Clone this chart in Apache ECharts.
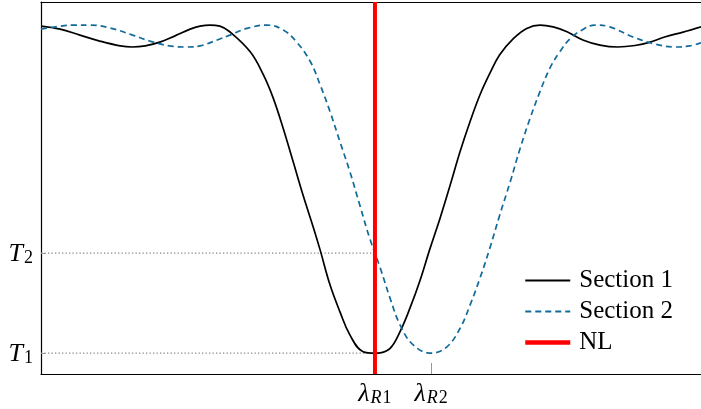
<!DOCTYPE html>
<html>
<head>
<meta charset="utf-8">
<script src="https://cdn.jsdelivr.net/npm/echarts@6/dist/echarts.min.js"></script>
<style>
  html, body { margin: 0; padding: 0; background: #fff; }
  #chart { width: 701px; height: 409px; }
</style>
</head>
<body>
<div id="chart"></div>
<script>
// Transmission spectra of two grating sections (wavelength in nm, normalised transmission)
const sec1Wl = [1545.00, 1545.29, 1545.59, 1545.89, 1546.20, 1546.38, 1546.58, 1546.80, 1547.03, 1547.26,
                1547.41, 1547.56, 1547.71, 1547.86, 1548.17, 1548.37, 1548.52, 1548.67, 1548.82, 1548.97,
                1549.13, 1549.23, 1549.38, 1549.53, 1549.68, 1549.88, 1550.06, 1550.14, 1550.29, 1550.44,
                1550.59, 1550.74, 1550.89, 1551.05, 1551.20, 1551.35, 1551.50, 1551.65, 1551.80, 1551.95,
                1552.16, 1552.36, 1552.56, 1552.76, 1552.97, 1553.21, 1553.47, 1553.74, 1554.00, 1554.23,
                1554.45, 1554.73, 1555.00];
const sec1T  = [0.935, 0.927, 0.911, 0.895, 0.882, 0.879, 0.882, 0.892, 0.909, 0.927,
                0.935, 0.938, 0.935, 0.920, 0.866, 0.804, 0.741, 0.660, 0.571, 0.481,
                0.392, 0.333, 0.239, 0.167, 0.105, 0.060, 0.056, 0.057, 0.069, 0.114,
                0.177, 0.250, 0.335, 0.421, 0.508, 0.598, 0.678, 0.750, 0.808, 0.858,
                0.902, 0.929, 0.938, 0.933, 0.920, 0.898, 0.884, 0.879, 0.883, 0.892,
                0.906, 0.919, 0.933];

const sec2Wl = [1545.00, 1545.29, 1545.52, 1545.74, 1546.05, 1546.39, 1546.65, 1546.95, 1547.21, 1547.41,
                1547.67, 1547.86, 1548.12, 1548.42, 1548.67, 1548.87, 1549.08, 1549.23, 1549.38, 1549.53,
                1549.68, 1549.83, 1549.98, 1550.14, 1550.29, 1550.44, 1550.64, 1550.91, 1551.15, 1551.35,
                1551.50, 1551.65, 1551.80, 1551.95, 1552.11, 1552.26, 1552.41, 1552.56, 1552.71, 1552.86,
                1553.02, 1553.20, 1553.39, 1553.62, 1553.97, 1554.30, 1554.61, 1554.83, 1555.00];
const sec2T  = [0.927, 0.935, 0.938, 0.938, 0.930, 0.911, 0.895, 0.882, 0.879, 0.882,
                0.898, 0.911, 0.929, 0.938, 0.925, 0.893, 0.840, 0.777, 0.705, 0.624,
                0.544, 0.454, 0.365, 0.285, 0.203, 0.132, 0.078, 0.056, 0.073, 0.123,
                0.185, 0.257, 0.338, 0.427, 0.517, 0.607, 0.687, 0.759, 0.822, 0.866,
                0.902, 0.925, 0.938, 0.933, 0.906, 0.887, 0.879, 0.882, 0.890];

// Resonance wavelengths and their transmission levels
const lambdaR1 = 1550.06;
const lambdaR2 = 1550.91;
const T1 = 0.056;
const T2 = 0.325;

const xTickValues = [lambdaR1, lambdaR2];
const xTickLabels = [['λ', 'R', '1'], ['λ', 'R', '2']];
const yTickValues = [T1, T2];
const yTickLabels = [['T', '', '1'], ['T', '', '2']];

const seriesNames = ['Section 1', 'Section 2', 'NL'];

const xMin = 1545, xMax = 1555, yMin = 0, yMax = 1;

const zip = (xs, ys) => xs.map((x, i) => [x, ys[i]]);

const mathRich = {
  m: { fontFamily: 'Liberation Serif', fontStyle: 'italic', fontSize: 26, color: '#000',
       lineHeight: 28, verticalAlign: 'bottom', padding: [0, 1, 0, 0] },
  s: { fontFamily: 'Liberation Serif', fontSize: 18, color: '#000',
       lineHeight: 16, verticalAlign: 'bottom' },
  si: { fontFamily: 'Liberation Serif', fontStyle: 'italic', fontSize: 18, color: '#000',
       lineHeight: 16, verticalAlign: 'bottom', padding: [0, 1, 0, 0] }
};

function mathLabel(values, labels, v) {
  let best = 0;
  values.forEach((t, i) => { if (Math.abs(t - v) < Math.abs(values[best] - v)) best = i; });
  const p = labels[best];
  return '{m|' + p[0] + '}' + (p[1] ? '{si|' + p[1] + '}' : '') + '{s|' + p[2] + '}';
}

const chart = echarts.init(document.getElementById('chart'), null, { renderer: 'canvas' });

chart.setOption({
  animation: false,
  backgroundColor: '#fff',
  grid: { left: 41, right: 0, top: 2, bottom: 35 },
  legend: {
    data: [
      { name: seriesNames[0] },
      { name: seriesNames[1] },
      { name: seriesNames[2], lineStyle: { width: 4.5 } }
    ],
    orient: 'vertical',
    left: 523, top: 268, padding: 0,
    itemWidth: 45, itemHeight: 14, itemGap: 6,
    itemStyle: { opacity: 0 },
    textStyle: { fontFamily: 'Liberation Serif', fontSize: 25, color: '#000', padding: [0, 0, 0, 4] }
  },
  xAxis: [{
    type: 'value', min: xMin, max: xMax,
    axisLine: { show: true, lineStyle: { color: '#000', width: 1.2 } },
    splitLine: { show: false },
    axisTick: {
      show: true, inside: true, length: 11, customValues: xTickValues,
      lineStyle: { color: '#999', width: 1 }
    },
    axisLabel: {
      show: true, customValues: xTickValues, margin: 5,
      formatter: v => mathLabel(xTickValues, xTickLabels, v),
      rich: mathRich
    }
  }, {
    // top frame edge
    type: 'value', position: 'top', min: xMin, max: xMax,
    axisLine: { show: true, lineStyle: { color: '#000', width: 1.2 } },
    axisTick: { show: false }, axisLabel: { show: false }, splitLine: { show: false }
  }],
  yAxis: {
    type: 'value', min: yMin, max: yMax,
    axisLine: { show: true, lineStyle: { color: '#000', width: 1.2 } },
    splitLine: { show: false },
    axisTick: {
      show: true, inside: true, length: 4, customValues: yTickValues,
      lineStyle: { color: '#999', width: 1 }
    },
    axisLabel: {
      show: true, customValues: yTickValues, margin: 8,
      formatter: v => mathLabel(yTickValues, yTickLabels, v),
      rich: mathRich
    }
  },
  series: [
    {
      name: 'T2 guide', type: 'line', symbol: 'none', silent: true,
      data: [[xMin, T2], [lambdaR1, T2]],
      lineStyle: { color: '#888', width: 1.3, type: [1.3, 2.2] }
    },
    {
      name: 'T1 guide', type: 'line', symbol: 'none', silent: true,
      data: [[xMin, T1], [lambdaR1, T1]],
      lineStyle: { color: '#888', width: 1.3, type: [1.3, 2.2] }
    },
    {
      name: seriesNames[0], type: 'line', symbol: 'none', smooth: 0.4,
      data: zip(sec1Wl, sec1T),
      lineStyle: { color: '#000', width: 1.7 },
      itemStyle: { color: '#000' }
    },
    {
      name: seriesNames[1], type: 'line', symbol: 'none', smooth: 0.4,
      data: zip(sec2Wl, sec2T),
      lineStyle: { color: '#106a9a', width: 1.7, type: [6, 4] },
      itemStyle: { color: '#106a9a' }
    },
    {
      name: seriesNames[2], type: 'line', symbol: 'none',
      data: [[lambdaR1, yMin], [lambdaR1, yMax]],
      lineStyle: { color: '#ff0000', width: 4 },
      itemStyle: { color: '#ff0000' }
    }
  ]
});
</script>
</body>
</html>
